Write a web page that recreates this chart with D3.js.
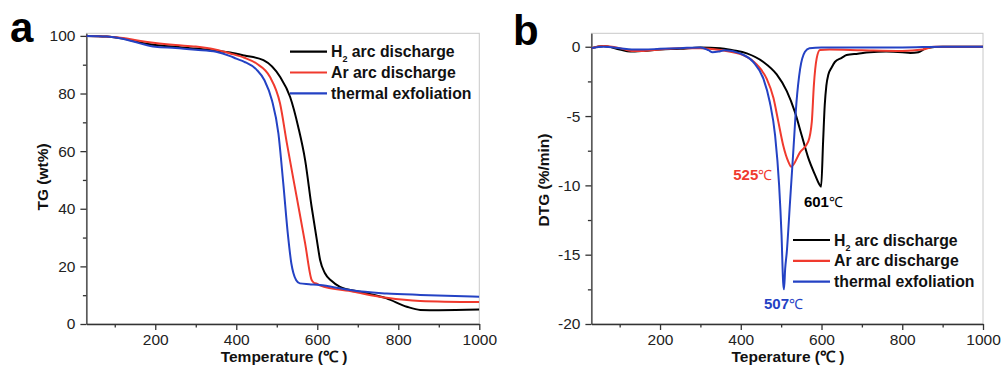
<!DOCTYPE html>
<html>
<head>
<meta charset="utf-8">
<script src="https://cdn.jsdelivr.net/npm/d3@7"></script>
<style>
  body { margin: 0; background: #fff; }
  svg { display: block; font-family: "Liberation Sans", Arial, sans-serif; }
  .tick text { font-size: 15.5px; fill: #222; }
  .ttl { font-size: 15.5px; font-weight: bold; fill: #111; }
  .leg { font-size: 15.8px; font-weight: bold; fill: #111; }
  .ann { font-size: 15px; font-weight: bold; }
</style>
</head>
<body>
<svg id="chart" width="1003" height="366"></svg>
<script>
// ---- data ----
// panel a: TG (wt%)
const tgH2T  = [30, 80, 120, 160, 200, 250, 300, 350, 385, 420, 467, 508, 533, 553, 570, 586, 599, 607, 619, 635, 656, 705, 771, 821, 854, 900, 1000];
const tgH2V  = [100, 99.8, 99.1, 97.8, 96.8, 96.2, 95.6, 94.8, 94.2, 93.2, 91.6, 85.8, 78.8, 68.4, 56.9, 40.7, 29.1, 22.2, 17.6, 15.0, 12.9, 11.2, 8.9, 6.0, 4.9, 4.8, 5.0];
const tgArT  = [30, 80, 120, 160, 200, 250, 300, 350, 385, 420, 450, 483, 508, 525, 549, 570, 586, 592, 598, 606, 689, 771, 854, 1000];
const tgArV  = [100, 99.8, 99.3, 98.3, 97.5, 96.8, 96.3, 95.2, 93.9, 92.4, 90.4, 85.8, 76.6, 62.7, 44.2, 28, 15.3, 14.3, 14.1, 13.4, 11.2, 9.1, 8.0, 7.6];
const tgThT  = [30, 80, 120, 160, 200, 250, 300, 350, 385, 400, 420, 450, 470, 488, 504, 516, 528, 536, 541, 548, 557, 580, 606, 656, 689, 771, 854, 1000];
const tgThV  = [100, 99.8, 99.0, 97.5, 96.2, 95.8, 95.2, 94.5, 93.0, 92.1, 91.0, 88.3, 84.5, 77.7, 66.2, 48.9, 30.3, 21, 17.7, 15.2, 14.1, 13.8, 13.5, 12.4, 11.6, 10.6, 10.1, 9.5];

// panel b: DTG (%/min)
const dtgH2T = [30, 60, 100, 126, 160, 200, 250, 300, 349, 380, 415, 456, 489, 514, 534, 551, 567, 584, 594, 599, 604, 608, 612, 617, 625, 633, 650, 662, 690, 720, 760, 800, 820, 840, 860, 900, 1000];
const dtgH2V = [-0.1, 0.05, -0.2, -0.35, -0.3, -0.2, -0.15, -0.05, -0.1, -0.25, -0.48, -1.1, -2.0, -3.2, -4.7, -6.4, -8.0, -9.25, -9.9, -10.1, -6.8, -4.2, -2.8, -2.0, -1.5, -1.1, -0.8, -0.6, -0.5, -0.4, -0.35, -0.4, -0.45, -0.4, -0.1, 0, 0];
const dtgArT = [30, 60, 100, 130, 160, 200, 250, 300, 349, 406, 440, 464, 481, 493, 505, 518, 525, 547, 567, 576, 581, 588, 596, 620, 700, 800, 850, 880, 1000];
const dtgArV = [-0.1, 0.05, -0.1, -0.3, -0.3, -0.2, -0.1, -0.1, -0.24, -0.6, -1.3, -2.3, -3.7, -5.4, -7.1, -8.3, -8.65, -7.6, -6.85, -5.4, -2.8, -0.84, -0.24, -0.2, -0.25, -0.3, -0.2, 0, 0];
const dtgThT = [30, 60, 100, 130, 160, 200, 250, 300, 320, 330, 345, 360, 398, 431, 456, 472, 485, 495, 501, 505, 507, 510, 514, 522, 530, 538, 547, 559, 570, 600, 700, 800, 900, 1000];
const dtgThV = [-0.1, 0, -0.1, -0.2, -0.2, -0.15, -0.1, -0.05, -0.25, -0.4, -0.35, -0.25, -0.48, -1.1, -2.3, -4.0, -6.4, -10, -13.6, -17.0, -17.5, -16.0, -14.8, -11.2, -7.6, -4.0, -1.6, -0.36, -0.1, -0.05, -0.05, -0.05, 0, 0];

const seriesNames = ["H2 arc discharge", "Ar arc discharge", "thermal exfoliation"];
const seriesColors = ["#000000", "#f03a2e", "#2442c4"];

const xMajor = [200, 400, 600, 800, 1000];
const xMinor = [100, 300, 500, 700, 900];
const tgMajor = [0, 20, 40, 60, 80, 100];
const tgMinor = [10, 30, 50, 70, 90];
const dtgMajor = [0, -5, -10, -15, -20];
const dtgMinor = [-2.5, -7.5, -12.5, -17.5];

const peakLabels = [
  {t: 601, v: -10.1, txt: "601", col: 0, dx: -18, dy: 20},
  {t: 525, v: -8.65, txt: "525", col: 1, dx: -58, dy: 13},
  {t: 507, v: -17.5, txt: "507", col: 2, dx: -20, dy: 20}
];

const zip = (a, b) => a.map((d, i) => [d, b[i]]);

const svg = d3.select("#chart");

function drawPanel(o) {
  const g = svg.append("g").attr("id", o.id);
  const x = d3.scaleLinear().domain([30, 1000]).range([o.left, o.right]);
  const y = d3.scaleLinear().domain(o.yDomain).range([o.bottom, o.top]);

  // light frame top/right
  g.append("rect")
    .attr("x", o.left).attr("y", o.top)
    .attr("width", o.right - o.left).attr("height", o.bottom - o.top)
    .attr("fill", "none").attr("stroke", "#c8c8c8").attr("stroke-width", 1);

  // minor ticks
  g.append("g").attr("transform", `translate(0,${o.bottom})`)
    .call(d3.axisBottom(x).tickValues(xMinor).tickSize(3.5).tickFormat(""))
    .call(a => a.select(".domain").remove());
  g.append("g").attr("transform", `translate(${o.left},0)`)
    .call(d3.axisLeft(y).tickValues(o.yMinor).tickSize(3.5).tickFormat(""))
    .call(a => a.select(".domain").remove());

  // major axes
  g.append("g").attr("class", "ax").attr("transform", `translate(0,${o.bottom})`)
    .call(d3.axisBottom(x).tickValues(xMajor).tickSize(6).tickSizeOuter(0).tickPadding(4)
      .tickFormat(d => String(d)));
  g.append("g").attr("class", "ax").attr("transform", `translate(${o.left},0)`)
    .call(d3.axisLeft(y).tickValues(o.yMajor).tickSize(6).tickSizeOuter(0).tickPadding(5)
      .tickFormat(d => String(d)));
  g.selectAll(".domain, .tick line").attr("stroke", "#333").attr("stroke-width", 1.3);
  g.selectAll(".ax").attr("font-family", null).attr("font-size", null);

  // curves
  g.append("clipPath").attr("id", o.id + "clip")
    .append("rect").attr("x", o.left).attr("y", o.top)
    .attr("width", o.right - o.left).attr("height", o.bottom - o.top);
  const line = d3.line().x(d => x(d[0])).y(d => y(d[1])).curve(d3.curveMonotoneX);
  const cg = g.append("g").attr("clip-path", `url(#${o.id}clip)`);
  cg.selectAll("path")
    .data(o.series)
    .join("path")
    .attr("d", d => line(d))
    .attr("fill", "none")
    .attr("stroke", (d, i) => seriesColors[i])
    .attr("stroke-width", 2)
    .attr("stroke-linejoin", "round");

  // legend
  const lg = g.append("g");
  seriesNames.forEach((name, i) => {
    const yy = o.legY + i * o.legStep;
    lg.append("line").attr("x1", o.legX).attr("x2", o.legX + 37)
      .attr("y1", yy).attr("y2", yy)
      .attr("stroke", seriesColors[i]).attr("stroke-width", 2.2);
    const t = lg.append("text").attr("class", "leg")
      .attr("x", o.legX + 41).attr("y", yy + 5.5);
    if (i == 0) {
      t.append("tspan").text("H");
      t.append("tspan").text("2").attr("font-size", "9px").attr("dy", 5);
      t.append("tspan").text(" arc discharge").attr("dy", -5);
    } else {
      t.text(name);
    }
  });

  // titles
  g.append("text").attr("class", "ttl")
    .attr("x", o.xTitleX).attr("y", 362).attr("text-anchor", "middle")
    .text(o.xTitle);
  g.append("text").attr("class", "ttl")
    .attr("transform", `translate(${o.yTitleX},${o.yTitleY}) rotate(-90)`)
    .attr("text-anchor", "middle")
    .text(o.yTitle);
  g.append("text")
    .attr("x", o.letterX).attr("y", o.letterY)
    .attr("font-size", "42px").attr("font-weight", "bold").attr("fill", "#000")
    .text(o.letter);

  return {x, y, g};
}

drawPanel({
  id: "pa", left: 86.4, right: 479.3, top: 33.3, bottom: 324,
  yDomain: [0, 100.9], yMajor: tgMajor, yMinor: tgMinor,
  series: [zip(tgH2T, tgH2V), zip(tgArT, tgArV), zip(tgThT, tgThV)],
  legX: 290, legY: 51.7, legStep: 20.8,
  xTitle: "Temperature (\u2103 )", xTitleX: 284,
  yTitle: "TG (wt%)", yTitleX: 48, yTitleY: 177,
  letter: "a", letterX: 10, letterY: 41.5
});

const pb = drawPanel({
  id: "pb", left: 591.4, right: 983, top: 33.3, bottom: 324,
  yDomain: [-20, 0.97], yMajor: dtgMajor, yMinor: dtgMinor,
  series: [zip(dtgH2T, dtgH2V), zip(dtgArT, dtgArV), zip(dtgThT, dtgThV)],
  legX: 793, legY: 240, legStep: 20.8,
  xTitle: "Teperature (\u2103 )", xTitleX: 788,
  yTitle: "DTG (%/min)", yTitleX: 549, yTitleY: 180,
  letter: "b", letterX: 513, letterY: 45
});

// peak temperature labels
peakLabels.forEach(p => {
  const t = pb.g.append("text").attr("class", "ann")
    .attr("x", pb.x(p.t) + p.dx).attr("y", pb.y(p.v) + p.dy)
    .attr("fill", seriesColors[p.col]);
  t.append("tspan").text(p.txt);
  t.append("tspan").text("\u2103").attr("font-weight", "normal").attr("font-size", "14px");
});
</script>
</body>
</html>
